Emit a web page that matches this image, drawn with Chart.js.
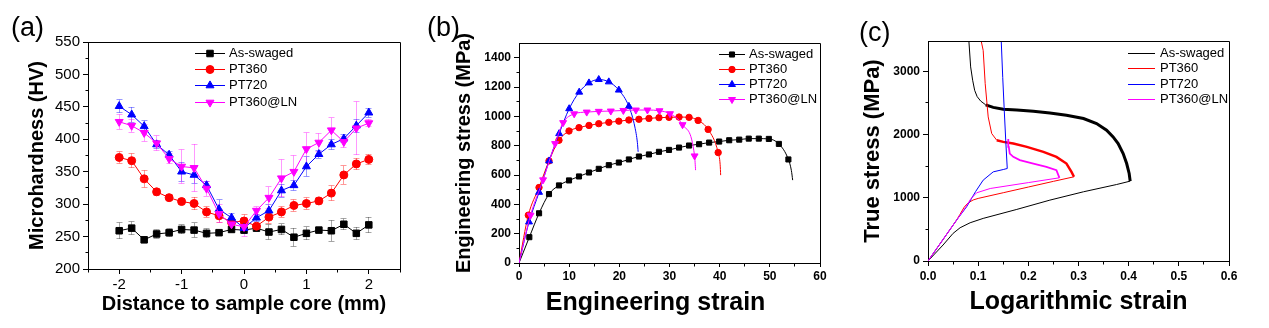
<!DOCTYPE html>
<html><head><meta charset="utf-8">
<script src="https://cdn.jsdelivr.net/npm/chart.js"></script>
<style>
html,body{margin:0;padding:0;background:#fff;width:1269px;height:328px;overflow:hidden;}
canvas{position:absolute;top:0;}
#ca{left:0}#cb{left:420px}#cc{left:850px}
</style></head><body>
<canvas id="ca" width="420" height="328"></canvas>
<canvas id="cb" width="430" height="328"></canvas>
<canvas id="cc" width="419" height="328"></canvas>
<script>
// ---------------- DATA ----------------
// Panel (a): microhardness profiles
const aPositions = [-2,-1.8,-1.6,-1.4,-1.2,-1,-0.8,-0.6,-0.4,-0.2,0,0.2,0.4,0.6,0.8,1,1.2,1.4,1.6,1.8,2];
const aAsSwaged    = [259,263,245,254,256,261,260,255,256,261,260,263,257,261,249,255,260,259,269,255,268];
const aAsSwagedErr = [12.5,10,4,6.4,6,7,11,7,4,4,5,3,11.5,8.5,14,10,4,16,8.5,9.5,12];
const aPT360       = [372,367,339,319,310,304,301,288,282,272,274,266,280,288,298,301,305,317,345,362,369];
const aPT360Err    = [9,11,13,5,5,5,10,8,10,6,10,4,10,8,9,9,6,11.5,14,9,8];
const aPT720       = [451,438,420,392,376,350,345,329,292,279,263,279,290,321,329,358,377,392,401,421,441];
const aPT720Err    = [10,11.5,8.5,6.4,5,14.6,12.8,6.4,14.6,7,9,5,9,10,7.7,15,6,7.7,6,10,7];
const aPT360LN     = [427,421,410,394,370,358,356,324,285,269,265,290,310,340,350,385,395,414,396,417,425];
const aPT360LNErr  = [11.5,10,13,11.5,7.7,26,36.6,11.5,14,9,14.6,6,16.6,28.7,25,25,14,19,9,41,6];
const aXTicks = [-2,-1,0,1,2];
const aYTicks = [200,250,300,350,400,450,500,550];
const aXMinor = [-2.5,-1.5,-0.5,0.5,1.5,2.5];
const aYMinor = [225,275,325,375,425,475,525];

// Panel (b): engineering stress-strain
const bAsX  = [0,2.06,4.0,5.98,7.97,9.97,11.96,13.95,15.9,17.9,19.9,21.9,23.9,25.9,27.9,29.9,31.9,33.9,35.9,37.9,39.9,41.9,43.9,45.8,47.8,49.8,51.8,53.7,54.3,54.55];
const bAsY  = [0,176,339,470,529,563,590,617,642,667,685,706,726,740,758,771,787,801,810,821,828,837,841,848,848,846,812,706,630,565];
const bP360X = [0,1.86,3.99,5.98,7.97,9.97,11.96,13.95,15.9,17.9,19.9,21.9,23.9,25.9,27.9,29.9,31.9,33.9,35.7,37.7,39.7,40.1,40.2];
const bP360Y = [0,326,515,696,837,900,923,938,950,959,967,975,980,986,991,993,995,993,972,911,753,670,599];
const bP720X = [0,2.0,4.0,6.0,8.0,10.0,12.0,13.95,15.9,17.9,19.9,21.9,23.1,23.6,23.75];
const bP720Y = [0,280,482,696,882,1052,1165,1228,1251,1235,1179,1068,927,820,758];
const bLNX  = [0,2.3,4.8,7.2,8.8,11.0,13.5,15.9,18.3,20.8,23.3,25.6,28.0,30.1,32.6,35.0,35.2];
const bLNY  = [0,326,567,814,957,1017,1029,1034,1036,1040,1043,1043,1038,1018,943,730,633];
const bXTicks = [0,10,20,30,40,50,60];
const bYTicks = [0,200,400,600,800,1000,1200,1400];
const bXMinor = [5,15,25,35,45,55];
const bYMinor = [100,300,500,700,900,1100,1300];

// Panel (c): true stress vs logarithmic strain
const cAsX = [0,0.030,0.050,0.064,0.084,0.110,0.177,0.243,0.310,0.376,0.403,0.401,0.396,0.389,0.379,0.369,0.356,0.336,0.310,0.276,0.243,0.210,0.177,0.150,0.130,0.115,0.105,0.098,0.093,0.089,0.085,0.0815];
const cAsY = [0,253,437,526,605,674,816,963,1095,1210,1263,1384,1542,1700,1858,1963,2068,2174,2253,2305,2342,2370,2390,2400,2430,2470,2530,2600,2700,2860,3070,3480];
const cP360X = [0,0.057,0.064,0.072,0.080,0.090,0.100,0.150,0.200,0.250,0.291,0.286,0.276,0.256,0.230,0.197,0.170,0.150,0.137,0.127,0.120,0.114,0.110,0.106];
const cP360Y = [0,647,740,850,920,965,990,1080,1170,1260,1332,1410,1542,1647,1726,1805,1858,1884,1911,2016,2279,2805,3332,3480];
const cP720X = [0,0.057,0.077,0.095,0.110,0.130,0.150,0.158,0.155,0.152,0.149,0.146];
const cP720Y = [0,647,858,1100,1279,1410,1447,1463,1900,2384,2900,3480];
const cLNX = [0,0.057,0.075,0.085,0.097,0.124,0.200,0.262,0.256,0.236,0.210,0.183,0.170,0.163,0.161,0.160];
const cLNY = [0,647,850,980,1079,1147,1240,1316,1437,1489,1542,1595,1647,1700,1805,1930];
const cXTicks = [0,0.1,0.2,0.3,0.4,0.5,0.6];
const cYTicks = [0,1000,2000,3000];
const cXMinor = [0.05,0.15,0.25,0.35,0.45,0.55];
const cYMinor = [500,1500,2500];

const seriesNames = ['As-swaged','PT360','PT720','PT360@LN'];

// ---------------- HELPERS ----------------
const FONT = "'Liberation Sans', Arial, Helvetica, sans-serif";
Chart.defaults.font.family = FONT;
Chart.defaults.color = '#000';
Chart.defaults.animation = false;

const zip = (xs, ys) => xs.map((x, i) => ({x, y: ys[i]}));
const fixedTicks = arr => s => { s.ticks = arr.map(v => ({value: v})); };
const al = v => Math.round(v - 0.5) + 0.5;

function drawMarker(ctx, style, rot, x, y, r, color) {
  ctx.save(); ctx.fillStyle = color; ctx.strokeStyle = color; ctx.lineWidth = 1;
  ctx.beginPath();
  if (style === 'rect') { const s = r * Math.SQRT1_2; ctx.rect(x - s, y - s, 2 * s, 2 * s); }
  else if (style === 'circle') { ctx.arc(x, y, r, 0, Math.PI * 2); }
  else if (style === 'triangle') {
    let rad = rot * Math.PI / 180;
    for (let k = 0; k < 3; k++) {
      const px = x + Math.sin(rad) * r, py = y - Math.cos(rad) * r;
      if (k) ctx.lineTo(px, py); else ctx.moveTo(px, py);
      rad += 2 * Math.PI / 3;
    }
    ctx.closePath();
  }
  ctx.fill(); ctx.stroke(); ctx.restore();
}

const framePlugin = {
  id: 'frame',
  afterDraw(chart, args, o) {
    const {ctx, chartArea: a, scales: {x, y}} = chart;
    ctx.save(); ctx.strokeStyle = '#000'; ctx.lineWidth = 1;
    ctx.beginPath();
    ctx.moveTo(al(a.left), al(a.top)); ctx.lineTo(al(a.right), al(a.top)); ctx.lineTo(al(a.right), al(a.bottom));
    const B = al(a.bottom), L = al(a.left);
    (o.xMinor || []).forEach(v => { const p = al(x.getPixelForValue(v)); ctx.moveTo(p, B); ctx.lineTo(p, B + o.len); });
    (o.yMinor || []).forEach(v => { const p = al(y.getPixelForValue(v)); ctx.moveTo(L, p); ctx.lineTo(L - o.len, p); });
    ctx.stroke(); ctx.restore();
  }
};

const errorPlugin = {
  id: 'errbars',
  beforeDatasetsDraw(chart) {
    const {ctx, scales: {x, y}} = chart;
    chart.data.datasets.forEach(ds => {
      if (!ds.errors) return;
      ctx.save(); ctx.strokeStyle = ds.errorColor; ctx.lineWidth = 1;
      ctx.beginPath();
      ds.data.forEach((p, j) => {
        const e = ds.errors[j], px = al(x.getPixelForValue(p.x));
        const y1 = y.getPixelForValue(p.y + e), y2 = y.getPixelForValue(p.y - e);
        ctx.moveTo(px, y1); ctx.lineTo(px, y2);
        ctx.moveTo(px - 3, al(y1)); ctx.lineTo(px + 3, al(y1));
        ctx.moveTo(px - 3, al(y2)); ctx.lineTo(px + 3, al(y2));
      });
      ctx.stroke(); ctx.restore();
    });
  }
};

const legendPlugin = {
  id: 'olegend',
  afterDraw(chart, args, o) {
    const ctx = chart.ctx;
    chart.data.datasets.forEach((ds, i) => {
      const y = o.y0 + i * o.dy;
      ctx.save();
      ctx.strokeStyle = ds.borderColor; ctx.lineWidth = 1;
      ctx.beginPath(); ctx.moveTo(o.x1, Math.round(y) + 0.5); ctx.lineTo(o.x2, Math.round(y) + 0.5); ctx.stroke();
      if (o.markers) drawMarker(ctx, ds.pointStyle, ds.pointRotation || 0, (o.x1 + o.x2) / 2, Math.round(y) + 0.5, ds.markerR, ds.borderColor);
      ctx.fillStyle = '#000'; ctx.font = o.size + 'px ' + FONT; ctx.textBaseline = 'middle'; ctx.textAlign = 'left';
      ctx.fillText(ds.label, o.tx, y + 0.5);
      ctx.restore();
    });
  }
};

const panelLabelPlugin = {
  id: 'plabel',
  afterDraw(chart, args, o) {
    const ctx = chart.ctx;
    ctx.save(); ctx.fillStyle = '#000'; ctx.font = o.size + 'px ' + FONT; ctx.textBaseline = 'alphabetic';
    ctx.fillText(o.text, o.x, o.y); ctx.restore();
  }
};

function axisCommon(tickLen, pad, fontSize, weight, fmt) {
  return {
    ticks: {font: {size: fontSize, weight: weight}, padding: pad, autoSkip: false, maxRotation: 0, minRotation: 0, color: '#000',
            callback: fmt || (v => String(v))},
    grid: {drawOnChartArea: false, drawTicks: true, tickLength: tickLen, tickColor: '#000', tickWidth: 1, color: '#000'},
    border: {display: true, color: '#000', width: 1}
  };
}

const colors = ['#000000', '#ff0000', '#0000ff', '#ff00ff'];
const errColors = ['rgba(0,0,0,0.35)', 'rgba(255,0,0,0.4)', 'rgba(0,0,255,0.4)', 'rgba(255,0,255,0.4)'];
const styles = [['rect', 0], ['circle', 0], ['triangle', 0], ['triangle', 180]];

// ---------------- PANEL (a) ----------------
const aVals = [aAsSwaged, aPT360, aPT720, aPT360LN];
const aErrs = [aAsSwagedErr, aPT360Err, aPT720Err, aPT360LNErr];
const aR = [4.6, 4, 4.6, 4.6];
new Chart(document.getElementById('ca'), {
  type: 'line',
  data: {
    datasets: aVals.map((vals, i) => ({
      label: seriesNames[i], data: zip(aPositions, vals), errors: aErrs[i], errorColor: errColors[i],
      borderColor: colors[i], backgroundColor: colors[i], pointBackgroundColor: colors[i], pointBorderColor: colors[i],
      borderWidth: 1, pointStyle: styles[i][0], pointRotation: styles[i][1], pointRadius: aR[i], markerR: aR[i],
      pointBorderWidth: 1, tension: 0, order: 4 - i
    }))
  },
  options: {
    responsive: false, animation: false, events: [],
    layout: {padding: {left: 0, right: 20, top: 42, bottom: 0}},
    scales: {
      x: Object.assign(axisCommon(5, 2, 15, 'normal'), {
        type: 'linear', min: -2.5, max: 2.5, afterBuildTicks: fixedTicks(aXTicks), afterFit: s => { s.height = 59; },
        title: {display: true, text: 'Distance to sample core (mm)', color: '#000', font: {size: 20, weight: 'bold', lineHeight: 1.2}, padding: {top: 0, bottom: 12}}
      }),
      y: Object.assign(axisCommon(5, 3, 15, 'normal'), {
        type: 'linear', min: 200, max: 550, afterBuildTicks: fixedTicks(aYTicks), afterFit: s => { s.width = 88; },
        title: {display: true, text: 'Microhardness (HV)', color: '#000', font: {size: 20, weight: 'bold', lineHeight: 1.2}, padding: {top: 25, bottom: 0}}
      })
    },
    plugins: {
      legend: {display: false}, tooltip: {enabled: false},
      frame: {xMinor: aXMinor, yMinor: aYMinor, len: 3},
      olegend: {x1: 195, x2: 225, tx: 229, y0: 52.7, dy: 16.3, size: 13, markers: true},
      plabel: {text: '(a)', x: 11, y: 36, size: 27}
    }
  },
  plugins: [errorPlugin, framePlugin, legendPlugin, panelLabelPlugin]
});

// ---------------- PANEL (b) ----------------
const bXs = [bAsX, bP360X, bP720X, bLNX];
const bYs = [bAsY, bP360Y, bP720Y, bLNY];
const bR = [3.6, 3.2, 4, 4];
new Chart(document.getElementById('cb'), {
  type: 'line',
  data: {
    datasets: bXs.map((xs, i) => ({
      label: seriesNames[i], data: zip(xs, bYs[i]),
      borderColor: colors[i], backgroundColor: colors[i], pointBackgroundColor: colors[i], pointBorderColor: colors[i],
      borderWidth: 1, pointStyle: styles[i][0], pointRotation: styles[i][1], markerR: bR[i],
      lastMarker: [27, 20, 11, 15][i],
      pointRadius: c => (c.dataIndex === 0 || c.dataIndex > c.dataset.lastMarker) ? 0 : c.dataset.markerR,
      pointBorderWidth: 1, cubicInterpolationMode: 'monotone', order: 4 - i
    }))
  },
  options: {
    responsive: false, animation: false, events: [],
    layout: {padding: {left: 0, right: 30, top: 43, bottom: 0}},
    scales: {
      x: Object.assign(axisCommon(4, 2, 12, 'bold'), {
        type: 'linear', min: 0, max: 60, afterBuildTicks: fixedTicks(bXTicks), afterFit: s => { s.height = 65; },
        title: {display: true, text: 'Engineering strain    ', color: '#000', font: {size: 25, weight: 'bold', lineHeight: 1.2}, padding: {top: 0, bottom: 10}}
      }),
      y: Object.assign(axisCommon(5, 3, 12, 'bold'), {
        type: 'linear', min: 0, max: 1500, afterBuildTicks: fixedTicks(bYTicks), afterFit: s => { s.width = 99; },
        title: {display: true, text: 'Engineering stress (MPa)', color: '#000', font: {size: 20, weight: 'bold', lineHeight: 1.2}, padding: {top: 32.5, bottom: 0}}
      })
    },
    plugins: {
      legend: {display: false}, tooltip: {enabled: false},
      frame: {xMinor: bXMinor, yMinor: bYMinor, len: 3},
      olegend: {x1: 299, x2: 325, tx: 329, y0: 54.3, dy: 15, size: 13, markers: true},
      plabel: {text: '(b)', x: 7, y: 36, size: 27}
    }
  },
  plugins: [framePlugin, legendPlugin, panelLabelPlugin]
});

// ---------------- PANEL (c) ----------------
const cXs = [cAsX, cP360X, cP720X, cLNX];
const cYs = [cAsY, cP360Y, cP720Y, cLNY];
new Chart(document.getElementById('cc'), {
  type: 'line',
  data: {
    datasets: cXs.map((xs, i) => ({
      label: seriesNames[i], data: zip(xs, cYs[i]),
      borderColor: colors[i], backgroundColor: colors[i], borderWidth: 1, pointRadius: 0, tension: 0,
      noisy: [[10, 25], [10, 18], [-1, -1], [7, 15]][i], noisyW: [3, 2.5, 1, 1.8][i],
      segment: {borderWidth: c => {
        const ds = c.chart.data.datasets[c.datasetIndex];
        return (c.p0DataIndex >= ds.noisy[0] && c.p1DataIndex <= ds.noisy[1]) ? ds.noisyW : 1;
      }},
      order: 4 - i
    }))
  },
  options: {
    responsive: false, animation: false, events: [],
    layout: {padding: {left: 0, right: 40, top: 41, bottom: 0}},
    scales: {
      x: Object.assign(axisCommon(5, 3, 12, 'bold', v => v.toFixed(1)), {
        type: 'linear', min: 0, max: 0.6, afterBuildTicks: fixedTicks(cXTicks), afterFit: s => { s.height = 67; },
        title: {display: true, text: 'Logarithmic strain', color: '#000', font: {size: 25, weight: 'bold', lineHeight: 1.2}, padding: {top: 0, bottom: 11}}
      }),
      y: Object.assign(axisCommon(5, 3, 12, 'bold'), {
        type: 'linear', min: 0, max: 3480, afterBuildTicks: fixedTicks(cYTicks), afterFit: s => { s.width = 78; },
        title: {display: true, text: 'True stress (MPa)', color: '#000', font: {size: 22, weight: 'bold', lineHeight: 1.2}, padding: {top: 10, bottom: 0}}
      })
    },
    plugins: {
      legend: {display: false}, tooltip: {enabled: false},
      frame: {xMinor: cXMinor, yMinor: cYMinor, len: 3},
      olegend: {x1: 278, x2: 305, tx: 310, y0: 52.7, dy: 15.4, size: 13, markers: false},
      plabel: {text: '(c)', x: 9, y: 41, size: 27}
    }
  },
  plugins: [framePlugin, legendPlugin, panelLabelPlugin]
});
</script></body></html>
